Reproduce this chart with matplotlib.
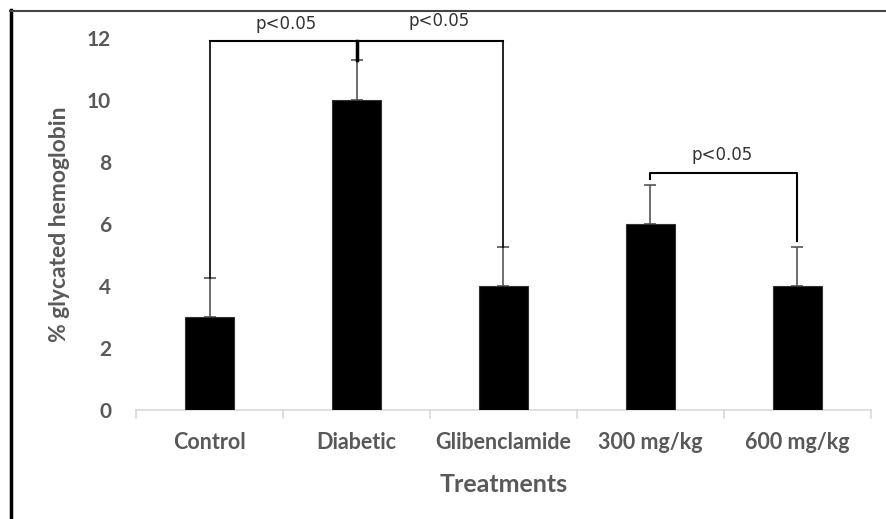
import matplotlib
matplotlib.use("Agg")
import matplotlib.pyplot as plt
from matplotlib.lines import Line2D
import numpy as np

categories = ["Control", "Diabetic", "Glibenclamide", "300 mg/kg", "600 mg/kg"]
values = [3.0, 10.0, 4.0, 6.0, 4.0]
errors = [1.25, 1.3, 1.25, 1.25, 1.25]
yticks = [0, 2, 4, 6, 8, 10, 12]
sig_label = "p<0.05"

W, H = 886, 519
fig = plt.figure(figsize=(W / 100, H / 100), dpi=100)
ax = fig.add_axes([136 / W, 1 - 410 / H, (871 - 136) / W, (410 - 38) / H])

gray = "#595959"
font = ["Lato", "DejaVu Sans"]

x = np.arange(len(categories))
ax.bar(x, values, width=0.33, color="black", edgecolor="#333333", linewidth=0.8, zorder=3)
ax.errorbar(x, values, yerr=[np.zeros(len(errors)), errors], fmt="none",
            ecolor="#555555", elinewidth=1.2, capsize=4, capthick=1.2, zorder=2)

ax.set_xlim(-0.5, len(categories) - 0.5)
ax.set_ylim(0, 12)
ax.set_yticks(yticks)
ax.set_yticklabels([str(t) for t in yticks], fontsize=15, fontweight="bold", color=gray, family=font)
ax.set_xticks(x)
ax.set_xticklabels(categories, fontsize=15.5, fontweight="bold", color=gray, family=font)
ax.tick_params(axis="y", length=0, pad=18)
ax.tick_params(axis="x", length=0, pad=16)
for b in np.arange(-0.5, len(categories), 1.0):
    ax.plot([b, b], [0, -0.25], color="#d9d9d9", lw=1.2, clip_on=False, zorder=1)

for s in ["top", "right", "left"]:
    ax.spines[s].set_visible(False)
ax.spines["bottom"].set_color("#d9d9d9")
ax.spines["bottom"].set_linewidth(1.2)

ax.set_ylabel("% glycated hemoglobin", fontsize=16.5, fontweight="bold", color=gray, family=font, labelpad=12)
ax.set_xlabel("Treatments", fontsize=18, fontweight="bold", color=gray, family=font, labelpad=14)

# significance brackets
ytop = 11.9
tops = [v + e for v, e in zip(values, errors)]
ax.plot([x[0], x[0]], [tops[0], ytop], color="black", lw=1.2, clip_on=False, zorder=4)
ax.plot([x[2], x[2]], [tops[2], ytop], color="black", lw=1.2, clip_on=False, zorder=4)
ax.plot([x[0], x[2]], [ytop, ytop], color="black", lw=1.5, clip_on=False, zorder=4)
ax.plot([x[1], x[1]], [tops[1], ytop], color="black", lw=2.5, clip_on=False, zorder=4)
ax.text(0.52, 12.15, sig_label, ha="center", va="bottom", fontsize=12, color="#333333")
ax.text(1.56, 12.25, sig_label, ha="center", va="bottom", fontsize=12, color="#333333")

yb = 7.65
ax.plot([x[3], x[3], x[4], x[4]], [tops[3] + 0.2, yb, yb, tops[4] + 0.2], color="black", lw=1.5, zorder=4)
ax.text(3.49, yb + 0.3, sig_label, ha="center", va="bottom", fontsize=12, color="#333333")

# outer frame
fig.add_artist(Line2D([11 / W, 11 / W], [0, 1 - 10 / H], color="black", lw=2.5, transform=fig.transFigure))
fig.add_artist(Line2D([10 / W, 1], [1 - 10.5 / H, 1 - 10.5 / H], color="#444444", lw=1.5, transform=fig.transFigure))

fig.savefig("out.png", dpi=100)
